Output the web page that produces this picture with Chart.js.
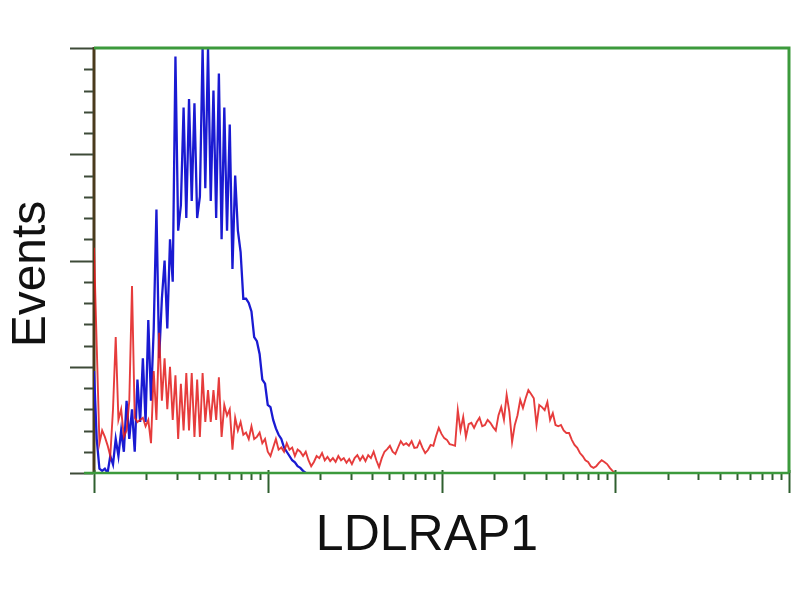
<!DOCTYPE html>
<html><head><meta charset="utf-8">
<script src="https://cdn.jsdelivr.net/npm/chart.js@4.4.0/dist/chart.umd.min.js"></script>
<style>html,body{margin:0;padding:0;background:#fff}</style>
</head><body>
<canvas id="c" width="800" height="600"></canvas>
<script>
// ---- data (channel index on a 4-decade log scale, 64 channels per decade; value = % of max events)
const xTitle = 'LDLRAP1';
const yTitle = 'Events';
const channelsPerDecade = 64;
const xDecadeValues = [1, 10, 100, 1000, 10000];
const xMinorMultipliers = [2, 3, 4, 5, 6, 7, 8, 9];
const yMajorTicks = [0, 25, 50, 75, 100];
const yMinorTicks = [5,10,15,20,30,35,40,45,55,60,65,70,80,85,90,95];

const blueEvents = [24,8,1,0.5,1,0,4,2,8,4,10,5,17,8,15,5,22,12,27,12,
  36,17,34,62,27,41,50,34,55,45,98,57,63,86,60,88,64,87,60,65,
  100,67,100,64,90,60,94,55,86,57,82,48,70,57,52,41,41,40,38,32,
  31,28,22,21,16,15.5,12.5,10.5,9,8,6,5,4,3,2.5,1.6,1.2,0.5,0];

const redEvents = [53,30,7,10,8.5,6.5,4,15,32,12.5,15,8.5,10,17,44,13,12,12.5,13,11,
  12.5,7,24,12.5,33,17,27,15,25,12.5,23,8,21,10,23.5,10,23.5,8.5,22,8.5,
  23.5,12,19.5,12,19.5,12.5,22.5,8.5,16,13.5,15,5.5,13,10,12,9,9.5,8,11,8,
  8.5,9.5,7,8,5,4,6,8,5.5,6,5,7,5.5,6,4,5.5,5,4,5,3,
  1.6,2.6,4,3.5,4.7,3,3.8,2.8,3.5,2.6,4,3,3.5,2.4,3.3,2.1,3.5,4.2,3,4,
  2.8,4.2,3.5,5,3,1.4,3.5,5,5.6,6.4,5,4.5,6,7.5,6.6,7,6.4,7.5,5.9,6,
  7.5,5.9,4.7,5.4,6.6,6.4,8.7,10.6,9.2,8.2,7.8,6.8,6.6,6.4,14.8,10,13.2,8.5,11.5,11.8,
  10.6,12,13,11,11.3,12.5,11.8,10.8,10,13.6,15.5,12.5,18.4,14.4,7.3,11.3,13.6,17.2,15.3,17.6,
  19.5,18.6,17.6,11.3,16,15.5,14.8,16.7,12.5,14.1,11.3,11,11.3,10,9.4,9.4,7.8,6.6,5.9,4.7,
  4,3,2.6,1.6,1.2,1.6,2.4,3,2.6,2.1,1.2,0.5,0];

const toPoints = arr => arr.map((v, i) => ({x: i, y: v}));

const GREEN = '#3c9a3c';
const TICK = '#2f5f2f';

const framePlugin = {
  id: 'frame',
  beforeDatasetsDraw(chart) {
    const {ctx, chartArea: a} = chart;
    ctx.save();
    ctx.strokeStyle = '#4a3a1c';
    ctx.lineWidth = 3;
    ctx.beginPath(); ctx.moveTo(a.left, a.top - 1); ctx.lineTo(a.left, a.bottom); ctx.stroke();
    ctx.restore();
  },
  afterDatasetsDraw(chart) {
    const {ctx, chartArea: a, scales: {x, y}} = chart;
    ctx.save();
    // y ticks
    ctx.strokeStyle = '#3d4a38';
    ctx.lineWidth = 2;
    yMajorTicks.forEach(v => {
      const py = Math.round(y.getPixelForValue(v)) + 0.5;
      ctx.beginPath(); ctx.moveTo(a.left - 24, py); ctx.lineTo(a.left - 1, py); ctx.stroke();
    });
    yMinorTicks.forEach(v => {
      const py = Math.round(y.getPixelForValue(v)) + 0.5;
      ctx.beginPath(); ctx.moveTo(a.left - 10, py); ctx.lineTo(a.left - 1, py); ctx.stroke();
    });
    // x ticks
    ctx.strokeStyle = TICK;
    xDecadeValues.forEach((d, i) => {
      const px = Math.round(x.getPixelForValue(channelsPerDecade * Math.log10(d))) + 0.5;
      ctx.beginPath(); ctx.moveTo(px, a.bottom - 3); ctx.lineTo(px, a.bottom + 20); ctx.stroke();
      if (i < xDecadeValues.length - 1) {
        xMinorMultipliers.forEach(m => {
          const qx = Math.round(x.getPixelForValue(channelsPerDecade * Math.log10(d * m))) + 0.5;
          ctx.beginPath(); ctx.moveTo(qx, a.bottom); ctx.lineTo(qx, a.bottom + 7); ctx.stroke();
        });
      }
    });
    // frame: top and right green
    ctx.strokeStyle = GREEN;
    ctx.lineWidth = 3;
    ctx.beginPath();
    ctx.moveTo(a.left, a.top); ctx.lineTo(a.right, a.top); ctx.lineTo(a.right, a.bottom);
    ctx.stroke();
    // bottom axis
    ctx.lineWidth = 2.5;
    ctx.beginPath(); ctx.moveTo(a.left - 10, a.bottom); ctx.lineTo(a.right, a.bottom); ctx.stroke();
    // titles
    ctx.fillStyle = '#111';
    ctx.textAlign = 'center';
    ctx.textBaseline = 'alphabetic';
    ctx.font = '50px "Liberation Sans", Arial, sans-serif';
    ctx.fillText(xTitle, 427, 550);
    ctx.save();
    ctx.translate(45, 274);
    ctx.rotate(-Math.PI / 2);
    ctx.font = '48px "Liberation Sans", Arial, sans-serif';
    ctx.fillText(yTitle, 0, 0);
    ctx.restore();
    ctx.restore();
  }
};

new Chart(document.getElementById('c'), {
  type: 'line',
  data: {
    datasets: [
      {data: toPoints(redEvents), borderColor: 'rgba(226,26,26,0.85)', borderWidth: 1.9, pointRadius: 0, tension: 0, clip: 0, order: 1},
      {data: toPoints(blueEvents), borderColor: '#1a1ad2', borderWidth: 2.3, pointRadius: 0, tension: 0, clip: 0, order: 2}
    ]
  },
  options: {
    responsive: false,
    devicePixelRatio: 1,
    animation: false,
    layout: {padding: {left: 94, top: 48, right: 11, bottom: 127}},
    scales: {
      x: {type: 'linear', display: false, min: 0, max: channelsPerDecade * 4},
      y: {display: false, min: 0, max: 100}
    },
    plugins: {legend: {display: false}, tooltip: {enabled: false}}
  },
  plugins: [framePlugin]
});
</script>
</body></html>
